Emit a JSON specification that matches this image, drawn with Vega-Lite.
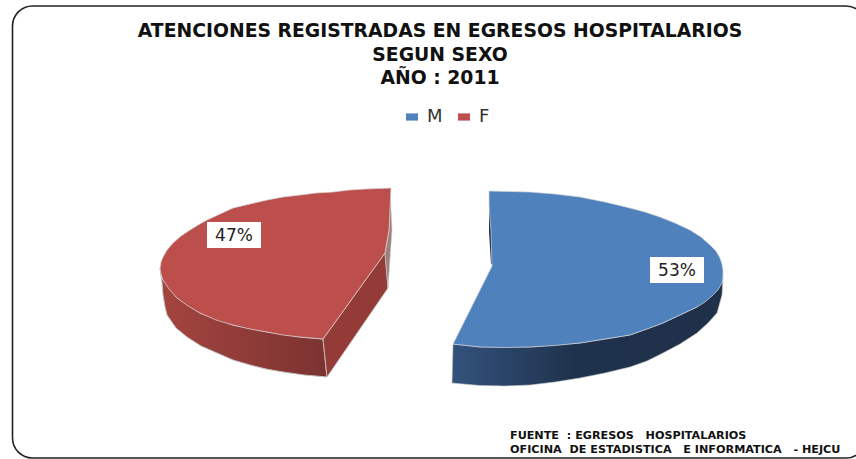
{
"$schema":"https://vega.github.io/schema/vega-lite/v6.json",
"width":856,"height":459,"padding":0,
"autosize":{"type":"fit","contains":"padding"},
"background":"white",
"view":{"stroke":null},
"datasets":{
"frame":[{"x":12.5,"x2":866,"y":6,"y2":458}],
"redWall":[{"i":0,"x":160,"y":268},{"i":1,"x":162,"y":283},{"i":2,"x":163,"y":295},{"i":3,"x":165,"y":307},{"i":4,"x":167,"y":315},{"i":5,"x":176,"y":328},{"i":6,"x":187,"y":337},{"i":7,"x":201,"y":346},{"i":8,"x":217,"y":353},{"i":9,"x":233,"y":360},{"i":10,"x":250,"y":365},{"i":11,"x":266,"y":369},{"i":12,"x":283,"y":372},{"i":13,"x":304,"y":375},{"i":14,"x":327,"y":377},{"i":15,"x":323,"y":339},{"i":16,"x":300,"y":337},{"i":17,"x":267,"y":332},{"i":18,"x":233,"y":325},{"i":19,"x":200,"y":313},{"i":20,"x":177,"y":298},{"i":21,"x":163,"y":280}],
"redInner":[{"i":0,"x":323,"y":339},{"i":1,"x":385,"y":253},{"i":2,"x":388,"y":288},{"i":3,"x":327,"y":377}],
"redStrip":[{"i":0,"x":390,"y":188},{"i":1,"x":392,"y":230},{"i":2,"x":388,"y":288},{"i":3,"x":385,"y":253},{"i":4,"x":389,"y":230}],
"blueWall":[{"i":0,"x":723,"y":278},{"i":1,"x":722,"y":295},{"i":2,"x":717,"y":313},{"i":3,"x":708,"y":323},{"i":4,"x":697,"y":333},{"i":5,"x":680,"y":344},{"i":6,"x":663,"y":353},{"i":7,"x":647,"y":361},{"i":8,"x":630,"y":367},{"i":9,"x":605,"y":373},{"i":10,"x":580,"y":378},{"i":11,"x":555,"y":382},{"i":12,"x":530,"y":385},{"i":13,"x":505,"y":386},{"i":14,"x":480,"y":385.5},{"i":15,"x":452,"y":383},{"i":16,"x":453,"y":344},{"i":17,"x":480,"y":347},{"i":18,"x":530,"y":347},{"i":19,"x":580,"y":343},{"i":20,"x":630,"y":335},{"i":21,"x":663,"y":323},{"i":22,"x":697,"y":307},{"i":23,"x":722,"y":283}],
"blueStrip":[{"i":0,"x":489,"y":205},{"i":1,"x":493,"y":232},{"i":2,"x":496,"y":262},{"i":3,"x":491,"y":264},{"i":4,"x":489,"y":232}],
"faces":[
{"sexo":"M","i":0,"x":489,"y":191},{"sexo":"M","i":1,"x":510,"y":191.5},{"sexo":"M","i":2,"x":530,"y":192},{"sexo":"M","i":3,"x":555,"y":194},{"sexo":"M","i":4,"x":580,"y":197},{"sexo":"M","i":5,"x":605,"y":202},{"sexo":"M","i":6,"x":630,"y":208},{"sexo":"M","i":7,"x":645,"y":212},{"sexo":"M","i":8,"x":660,"y":217},{"sexo":"M","i":9,"x":675,"y":223},{"sexo":"M","i":10,"x":690,"y":230},{"sexo":"M","i":11,"x":701,"y":237},{"sexo":"M","i":12,"x":710,"y":245},{"sexo":"M","i":13,"x":716,"y":251},{"sexo":"M","i":14,"x":720,"y":258},{"sexo":"M","i":15,"x":722,"y":264},{"sexo":"M","i":16,"x":723,"y":270},{"sexo":"M","i":17,"x":723,"y":277},{"sexo":"M","i":18,"x":722,"y":283},{"sexo":"M","i":19,"x":718,"y":290},{"sexo":"M","i":20,"x":712,"y":296},{"sexo":"M","i":21,"x":705,"y":302},{"sexo":"M","i":22,"x":697,"y":307},{"sexo":"M","i":23,"x":680,"y":315},{"sexo":"M","i":24,"x":663,"y":323},{"sexo":"M","i":25,"x":647,"y":329},{"sexo":"M","i":26,"x":630,"y":335},{"sexo":"M","i":27,"x":605,"y":339},{"sexo":"M","i":28,"x":580,"y":343},{"sexo":"M","i":29,"x":555,"y":345.5},{"sexo":"M","i":30,"x":530,"y":347},{"sexo":"M","i":31,"x":505,"y":347.5},{"sexo":"M","i":32,"x":480,"y":347},{"sexo":"M","i":33,"x":453,"y":344},{"sexo":"M","i":34,"x":492,"y":266},{"sexo":"M","i":35,"x":491,"y":232},{"sexo":"M","i":36,"x":489,"y":205},
{"sexo":"F","i":0,"x":391,"y":188},{"sexo":"F","i":1,"x":365,"y":189},{"sexo":"F","i":2,"x":349,"y":190},{"sexo":"F","i":3,"x":333,"y":192},{"sexo":"F","i":4,"x":316,"y":193},{"sexo":"F","i":5,"x":300,"y":195},{"sexo":"F","i":6,"x":283,"y":197},{"sexo":"F","i":7,"x":267,"y":200},{"sexo":"F","i":8,"x":250,"y":204},{"sexo":"F","i":9,"x":233,"y":208},{"sexo":"F","i":10,"x":220,"y":214},{"sexo":"F","i":11,"x":207,"y":220},{"sexo":"F","i":12,"x":198,"y":225},{"sexo":"F","i":13,"x":190,"y":230},{"sexo":"F","i":14,"x":181,"y":236},{"sexo":"F","i":15,"x":173,"y":243},{"sexo":"F","i":16,"x":167,"y":250},{"sexo":"F","i":17,"x":163,"y":257},{"sexo":"F","i":18,"x":161,"y":262},{"sexo":"F","i":19,"x":160,"y":268},{"sexo":"F","i":20,"x":161,"y":274},{"sexo":"F","i":21,"x":163,"y":280},{"sexo":"F","i":22,"x":169,"y":289},{"sexo":"F","i":23,"x":177,"y":298},{"sexo":"F","i":24,"x":188,"y":306},{"sexo":"F","i":25,"x":200,"y":313},{"sexo":"F","i":26,"x":216,"y":320},{"sexo":"F","i":27,"x":233,"y":325},{"sexo":"F","i":28,"x":250,"y":329},{"sexo":"F","i":29,"x":267,"y":332},{"sexo":"F","i":30,"x":283,"y":335},{"sexo":"F","i":31,"x":300,"y":337},{"sexo":"F","i":32,"x":323,"y":339},{"sexo":"F","i":33,"x":385,"y":253},{"sexo":"F","i":34,"x":389,"y":230}],
"labels":[{"t":"47%","x":207,"x2":261,"y":222,"y2":248,"xc":234,"yc":235.5},{"t":"53%","x":650,"x2":704,"y":257,"y2":283,"xc":677,"yc":271}],
"titles":[{"t":"ATENCIONES REGISTRADAS EN EGRESOS HOSPITALARIOS","x":440,"y":31},{"t":"SEGUN SEXO","x":440,"y":55},{"t":"AÑO : 2011","x":440,"y":78}],
"foot":[{"t":"FUENTE\u00a0 : EGRESOS\u00a0 \u00a0HOSPITALARIOS","x":510,"y":436},{"t":"OFICINA\u00a0 DE ESTADISTICA\u00a0 \u00a0E INFORMATICA\u00a0 \u00a0- HEJCU","x":510,"y":450}]
},
"encoding":{
"x":{"field":"x","type":"quantitative","scale":{"domain":[0,856],"nice":false,"zero":false},"axis":null},
"y":{"field":"y","type":"quantitative","scale":{"domain":[459,0],"nice":false,"zero":false},"axis":null}
},
"layer":[
{"data":{"name":"frame"},"mark":{"type":"rect","fill":null,"filled":false,"stroke":"#222222","strokeWidth":1.6,"cornerRadius":20,"clip":true},"encoding":{"x2":{"field":"x2"},"y2":{"field":"y2"}}},
{"data":{"name":"redWall"},"mark":{"type":"line","filled":true,"interpolate":"linear-closed","stroke":"#c4c4c4","strokeWidth":1,"fill":{"gradient":"linear","x1":0,"x2":1,"y1":0,"y2":0,"stops":[{"offset":0,"color":"#a5443f"},{"offset":1,"color":"#7b3330"}]}},"encoding":{"order":{"field":"i"}}},
{"data":{"name":"redInner"},"mark":{"type":"line","filled":true,"interpolate":"linear-closed","fill":"#943a37","stroke":"#c4c4c4","strokeWidth":0.8},"encoding":{"order":{"field":"i"}}},
{"data":{"name":"redStrip"},"mark":{"type":"line","filled":true,"interpolate":"linear-closed","fill":"#9c7f7e","stroke":"#cccccc","strokeWidth":0.6},"encoding":{"order":{"field":"i"}}},
{"data":{"name":"blueWall"},"mark":{"type":"line","filled":true,"interpolate":"linear-closed","stroke":"#c4c4c4","strokeWidth":0.6,"fill":{"gradient":"linear","x1":0,"x2":1,"y1":0,"y2":0,"stops":[{"offset":0,"color":"#33527c"},{"offset":0.45,"color":"#1f324d"},{"offset":1,"color":"#1f3049"}]}},"encoding":{"order":{"field":"i"}}},
{"data":{"name":"blueStrip"},"mark":{"type":"line","filled":true,"interpolate":"linear-closed","fill":"#1f3049","strokeWidth":0},"encoding":{"order":{"field":"i"}}},
{"data":{"name":"faces"},"mark":{"type":"line","filled":true,"interpolate":"linear-closed","stroke":"#d8d8d8","strokeWidth":0.7},"encoding":{"order":{"field":"i"},"color":{"field":"sexo","type":"nominal","scale":{"domain":["M","F"],"range":["#4f81bd","#bc4f4c"]},"legend":{"title":null,"orient":"none","legendX":403,"legendY":108,"direction":"horizontal","symbolType":"M-1,-0.6H1V0.6H-1Z","symbolSize":144,"symbolStrokeWidth":0,"labelFont":"DejaVu Sans","labelFontSize":18,"labelColor":"#333333","columnPadding":12,"labelOffset":6}}}},
{"data":{"name":"labels"},"mark":{"type":"rect","fill":"white"},"encoding":{"x2":{"field":"x2"},"y2":{"field":"y2"}}},
{"data":{"name":"labels"},"mark":{"type":"text","font":"DejaVu Sans","fontSize":17,"color":"#222222","align":"center","baseline":"middle"},"encoding":{"x":{"field":"xc","type":"quantitative"},"y":{"field":"yc","type":"quantitative"},"text":{"field":"t"}}},
{"data":{"name":"titles"},"mark":{"type":"text","font":"DejaVu Sans","fontWeight":"bold","fontSize":18.8,"color":"#111111","align":"center","baseline":"middle"},"encoding":{"text":{"field":"t"}}},
{"data":{"name":"foot"},"mark":{"type":"text","font":"DejaVu Sans","fontWeight":"bold","fontSize":11.2,"color":"#111111","align":"left","baseline":"middle"},"encoding":{"text":{"field":"t"}}}
]
}
